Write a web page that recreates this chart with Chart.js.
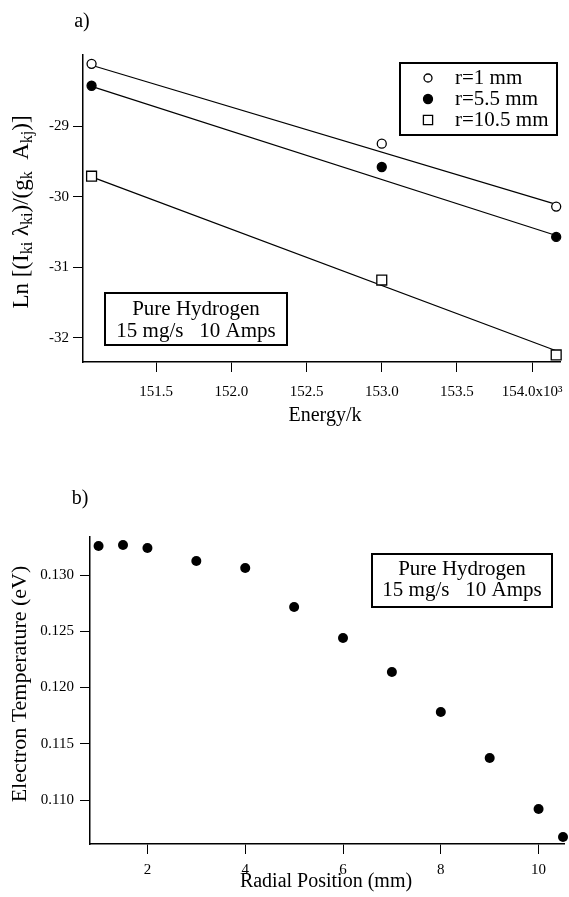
<!DOCTYPE html>
<html><head><meta charset="utf-8">
<script src="https://cdn.jsdelivr.net/npm/chart.js@4.4.0/dist/chart.umd.min.js"></script>
<style>
html,body{margin:0;padding:0;background:#fff;width:569px;height:897px;overflow:hidden}
canvas{position:absolute;left:0}
#ca{top:0}
#cb{top:450px}
</style></head><body>
<canvas id="ca" width="569" height="440"></canvas>
<canvas id="cb" width="569" height="447"></canvas>
<script>
// ---- Panel a) data ----
const energy = [151.07, 153.0, 154.16];
const lnR1 = [-28.12, -29.25, -30.14];
const lnR55 = [-28.43, -29.58, -30.57];
const lnR105 = [-29.71, -31.18, -32.24];
const fitEnergy = [151.07, 154.16];
const fitR1 = [-28.14, -30.11];
const fitR55 = [-28.44, -30.55];
const fitR105 = [-29.72, -32.18];
const energyTicks = [151.5, 152.0, 152.5, 153.0, 153.5, 154.0];
const energyTickLabels = ['151.5', '152.0', '152.5', '153.0', '153.5', '154.0x10\u00B3'];
const lnTicks = [-32, -31, -30, -29];
const lnTickLabels = ['-32', '-31', '-30', '-29'];
const seriesNames = ['r=1 mm', 'r=5.5 mm', 'r=10.5 mm'];

// ---- Panel b) data ----
const radialPos = [1, 1.5, 2, 3, 4, 5, 6, 7, 8, 9, 10, 10.5];
const electronTemp = [0.13258, 0.13267, 0.13240, 0.13124, 0.13062, 0.12716, 0.12440, 0.12138, 0.11782, 0.11373, 0.10920, 0.10671];
const radialTicks = [2, 4, 6, 8, 10];
const radialTickLabels = ['2', '4', '6', '8', '10'];
const tempTicks = [0.110, 0.115, 0.120, 0.125, 0.130];
const tempTickLabels = ['0.110', '0.115', '0.120', '0.125', '0.130'];

const noteLines = ['Pure Hydrogen', '15 mg/s   10 Amps'];
const FONT = '"Liberation Serif", "Times New Roman", serif';

function pts(xs, ys) { return xs.map((x, i) => ({x: x, y: ys[i]})); }

function axis(min, max, tickVals, tickLabels, size, isY, pad) {
  return {
    type: 'linear', min: min, max: max,
    afterBuildTicks: s => { s.ticks = tickVals.map(v => ({value: v})); },
    afterFit: s => {
      if (isY) s.width = size; else s.height = size;
      s.paddingLeft = 0; s.paddingRight = 0; s.paddingTop = 0; s.paddingBottom = 0;
    },
    ticks: {
      callback: (v, i) => tickLabels[i],
      color: '#000', font: {family: FONT, size: 15}, padding: pad,
      maxRotation: 0, minRotation: 0, autoSkip: false
    },
    grid: {drawOnChartArea: false, drawTicks: true, tickLength: 10, tickColor: '#000', tickWidth: 1},
    border: {display: true, color: '#000', width: 1.5}
  };
}

function drawBox(ctx, x1, y1, x2, y2) {
  ctx.save();
  ctx.fillStyle = '#fff';
  ctx.fillRect(x1, y1, x2 - x1, y2 - y1);
  ctx.strokeStyle = '#000';
  ctx.lineWidth = 2;
  ctx.strokeRect(x1, y1, x2 - x1, y2 - y1);
  ctx.restore();
}

function drawNote(ctx, x1, y1, x2, y2, l1y, l2y) {
  drawBox(ctx, x1, y1, x2, y2);
  ctx.save();
  ctx.fillStyle = '#000';
  ctx.font = '21px ' + FONT;
  ctx.textAlign = 'center';
  ctx.textBaseline = 'middle';
  const cx = (x1 + x2) / 2;
  ctx.fillText(noteLines[0], cx, l1y);
  ctx.fillText(noteLines[1], cx, l2y);
  ctx.restore();
}

function text(ctx, t, x, y, size, rot) {
  ctx.save();
  ctx.fillStyle = '#000';
  ctx.font = size + 'px ' + FONT;
  ctx.textAlign = 'center';
  ctx.textBaseline = 'middle';
  ctx.translate(x, y);
  if (rot) ctx.rotate(rot);
  ctx.fillText(t, 0, 0);
  ctx.restore();
}

// y title with subscripts for panel a
const yTitleParts = [
  ['Ln [(I', 0], ['ki', 1], [' \u03BB', 0], ['ki', 1], [')/(g', 0], ['k', 1], ['  A', 0], ['kj', 1], [')]', 0]
];
function drawSubTitle(ctx, cx, cy) {
  const big = 23, small = 16;
  ctx.save();
  ctx.translate(cx, cy);
  ctx.rotate(-Math.PI / 2);
  ctx.fillStyle = '#000';
  ctx.textBaseline = 'alphabetic';
  ctx.textAlign = 'left';
  let total = 0;
  yTitleParts.forEach(p => { ctx.font = (p[1] ? small : big) + 'px ' + FONT; total += ctx.measureText(p[0]).width; });
  let x = -total / 2;
  yTitleParts.forEach(p => {
    ctx.font = (p[1] ? small : big) + 'px ' + FONT;
    ctx.fillText(p[0], x, p[1] ? 11 : 7);
    x += ctx.measureText(p[0]).width;
  });
  ctx.restore();
}

const markerStyles = [
  {style: 'circle', fill: '#fff', r: 4.5, lr: 4},
  {style: 'circle', fill: '#000', r: 4.5, lr: 4.5},
  {style: 'rect', fill: '#fff', r: 7, lr: 6.5}
];

const annotA = {
  id: 'annotA',
  afterDraw(chart) {
    const ctx = chart.ctx;
    text(ctx, 'a)', 82, 22, 20);
    drawSubTitle(ctx, 21, 212);
    text(ctx, 'Energy/k', 325, 416, 20);
    // legend box
    drawBox(ctx, 400, 63, 557, 135);
    const rows = [78, 99, 120];
    rows.forEach((ry, i) => {
      const m = markerStyles[i];
      ctx.save();
      ctx.fillStyle = m.fill; ctx.strokeStyle = '#000'; ctx.lineWidth = 1.3;
      ctx.beginPath();
      if (m.style === 'circle') ctx.arc(428, ry, m.lr, 0, Math.PI * 2);
      else { const h = m.lr * Math.SQRT1_2; ctx.rect(428 - h, ry - h, 2 * h, 2 * h); }
      ctx.fill(); ctx.stroke();
      ctx.restore();
      ctx.save();
      ctx.fillStyle = '#000';
      ctx.font = '21px ' + FONT;
      ctx.textAlign = 'left'; ctx.textBaseline = 'middle';
      ctx.fillText(seriesNames[i], 455, ry);
      ctx.restore();
    });
    drawNote(ctx, 105, 293, 287, 345, 309, 331);
  }
};

const annotB = {
  id: 'annotB',
  afterDraw(chart) {
    const ctx = chart.ctx;
    text(ctx, 'b)', 80, 49, 20);
    text(ctx, 'Electron Temperature (eV)', 20, 234, 22, -Math.PI / 2);
    text(ctx, 'Radial Position (mm)', 326, 432, 20);
    drawNote(ctx, 372, 104, 552, 157, 119, 140);
  }
};

function pointDs(data, m) {
  return {type: 'scatter', data: data, showLine: false, pointStyle: m.style, pointRadius: m.r, pointHoverRadius: m.r,
    pointBackgroundColor: m.fill, pointBorderColor: '#000', pointBorderWidth: 1.3, order: 0, clip: false};
}
function lineDs(data) {
  return {type: 'scatter', data: data, showLine: true, borderColor: '#000', borderWidth: 1.2, pointRadius: 0,
    fill: false, order: 1, clip: false};
}

new Chart(document.getElementById('ca'), {
  type: 'scatter',
  data: {
    datasets: [
      pointDs(pts(energy, lnR1), markerStyles[0]),
      pointDs(pts(energy, lnR55), markerStyles[1]),
      pointDs(pts(energy, lnR105), markerStyles[2]),
      lineDs(pts(fitEnergy, fitR1)),
      lineDs(pts(fitEnergy, fitR55)),
      lineDs(pts(fitEnergy, fitR105))
    ]
  },
  options: {
    responsive: false, animation: false, devicePixelRatio: 1,
    layout: {padding: {top: 55, right: 3, left: 0, bottom: 0}},
    plugins: {legend: {display: false}, tooltip: {enabled: false}, title: {display: false}},
    scales: {
      x: axis(151.013, 154.19, energyTicks, energyTickLabels, 78, false, 11),
      y: axis(-32.34, -27.995, lnTicks, lnTickLabels, 83, true, 4)
    }
  },
  plugins: [annotA]
});

new Chart(document.getElementById('cb'), {
  type: 'scatter',
  data: {
    datasets: [
      {type: 'scatter', data: pts(radialPos, electronTemp), pointStyle: 'circle', pointRadius: 5, pointHoverRadius: 5,
        pointBackgroundColor: '#000', pointBorderColor: '#000', pointBorderWidth: 0, clip: false}
    ]
  },
  options: {
    responsive: false, animation: false, devicePixelRatio: 1,
    layout: {padding: {top: 87, right: 1, left: 0, bottom: 0}},
    plugins: {legend: {display: false}, tooltip: {enabled: false}, title: {display: false}},
    scales: {
      x: axis(0.825, 10.52, radialTicks, radialTickLabels, 53, false, 7),
      y: axis(0.10609, 0.13338, tempTicks, tempTickLabels, 90, true, 6)
    }
  },
  plugins: [annotB]
});
</script>
</body></html>
